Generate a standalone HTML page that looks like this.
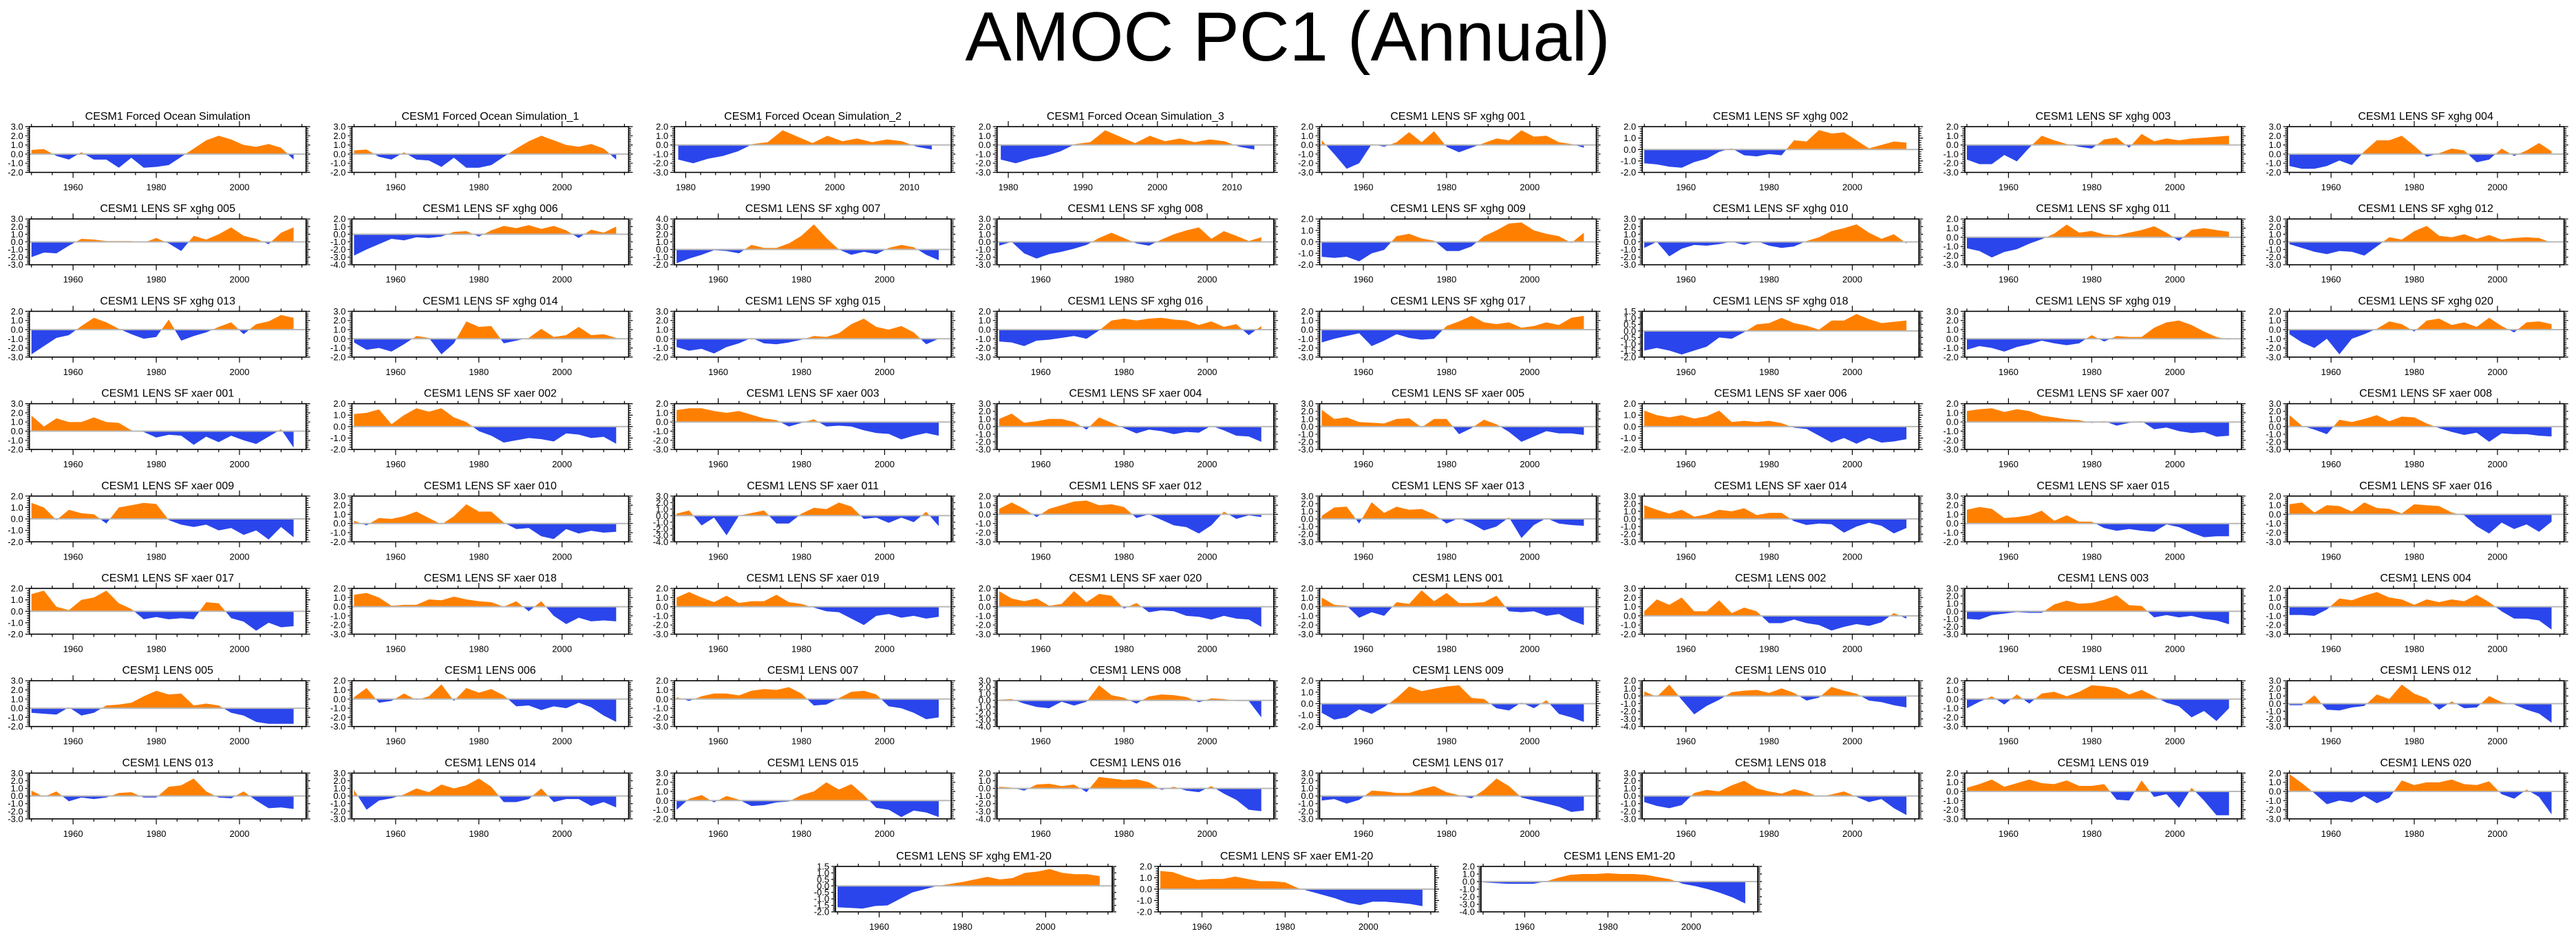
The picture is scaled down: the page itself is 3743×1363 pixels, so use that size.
<!DOCTYPE html>
<html><head><meta charset="utf-8"><style>
html,body{margin:0;padding:0;background:#fff;}
svg text{font-family:"Liberation Sans",Arial,sans-serif;fill:#000;}
</style></head><body>
<svg id="chart" width="3743" height="1358" viewBox="0 0 3743 1358" xmlns="http://www.w3.org/2000/svg">
<text x="1871" y="88" font-size="101" text-anchor="middle">AMOC PC1 (Annual)</text>
</svg>
<script>
const titles = ["CESM1 Forced Ocean Simulation","CESM1 Forced Ocean Simulation_1","CESM1 Forced Ocean Simulation_2","CESM1 Forced Ocean Simulation_3",
"CESM1 LENS SF xghg 001","CESM1 LENS SF xghg 002","CESM1 LENS SF xghg 003","CESM1 LENS SF xghg 004",
"CESM1 LENS SF xghg 005","CESM1 LENS SF xghg 006","CESM1 LENS SF xghg 007","CESM1 LENS SF xghg 008",
"CESM1 LENS SF xghg 009","CESM1 LENS SF xghg 010","CESM1 LENS SF xghg 011","CESM1 LENS SF xghg 012",
"CESM1 LENS SF xghg 013","CESM1 LENS SF xghg 014","CESM1 LENS SF xghg 015","CESM1 LENS SF xghg 016",
"CESM1 LENS SF xghg 017","CESM1 LENS SF xghg 018","CESM1 LENS SF xghg 019","CESM1 LENS SF xghg 020",
"CESM1 LENS SF xaer 001","CESM1 LENS SF xaer 002","CESM1 LENS SF xaer 003","CESM1 LENS SF xaer 004",
"CESM1 LENS SF xaer 005","CESM1 LENS SF xaer 006","CESM1 LENS SF xaer 007","CESM1 LENS SF xaer 008",
"CESM1 LENS SF xaer 009","CESM1 LENS SF xaer 010","CESM1 LENS SF xaer 011","CESM1 LENS SF xaer 012",
"CESM1 LENS SF xaer 013","CESM1 LENS SF xaer 014","CESM1 LENS SF xaer 015","CESM1 LENS SF xaer 016",
"CESM1 LENS SF xaer 017","CESM1 LENS SF xaer 018","CESM1 LENS SF xaer 019","CESM1 LENS SF xaer 020",
"CESM1 LENS 001","CESM1 LENS 002","CESM1 LENS 003","CESM1 LENS 004",
"CESM1 LENS 005","CESM1 LENS 006","CESM1 LENS 007","CESM1 LENS 008",
"CESM1 LENS 009","CESM1 LENS 010","CESM1 LENS 011","CESM1 LENS 012",
"CESM1 LENS 013","CESM1 LENS 014","CESM1 LENS 015","CESM1 LENS 016",
"CESM1 LENS 017","CESM1 LENS 018","CESM1 LENS 019","CESM1 LENS 020",
"CESM1 LENS SF xghg EM1-20","CESM1 LENS SF xaer EM1-20","CESM1 LENS EM1-20"];
const yTop = [3,3,2,2, 2,2,2,3, 3,2,4,3, 2,3,2,3, 2,3,3,2, 2,1.5,3,2, 3,2,2,3, 3,2,2,3,
 2,3,3,2, 3,3,3,2, 2,2,2,2, 2,3,3,2, 3,2,2,3, 2,2,2,3, 3,3,3,2, 3,3,2,2, 1.5,2,2];
const yBot = [-2,-2,-3,-3, -3,-2,-3,-2, -3,-4,-2,-3, -2,-3,-3,-3, -3,-2,-2,-3, -3,-2,-2,-3, -2,-2,-3,-3, -3,-2,-3,-3,
 -2,-2,-4,-3, -3,-3,-2,-3, -2,-3,-3,-3, -3,-2,-3,-3, -2,-3,-3,-4, -2,-4,-3,-3, -3,-3,-2,-4, -3,-3,-3,-3, -2,-2,-4];
const yearsLong = [1950,1953,1956,1959,1962,1965,1968,1971,1974,1977,1980,1983,1986,1989,1992,1995,1998,2001,2004,2007,2010,2013];
const yearsShort = [1979,1981,1983,1985,1987,1989,1991,1993,1995,1997,1999,2001,2003,2005,2007,2009,2011,2013];
const series = [
[0.45,0.55,-0.2,-0.6,0.2,-0.6,-0.6,-1.5,-0.4,-1.5,-1.4,-1.2,-0.3,0.6,1.5,2.0,1.6,1.0,0.8,1.1,0.7,-0.6],
[0.4,0.5,-0.3,-0.6,0.2,-0.6,-0.7,-1.4,-0.4,-1.5,-1.5,-1.2,-0.3,0.6,1.4,2.0,1.5,1.0,0.8,1.1,0.6,-0.6],
[-1.6,-2.0,-1.5,-1.2,-0.7,0.1,0.3,1.6,0.9,0.2,1.0,0.4,0.7,0.3,0.6,0.4,-0.2,-0.5],
[-1.6,-2.0,-1.5,-1.2,-0.7,0.1,0.3,1.6,0.9,0.2,1.0,0.4,0.7,0.3,0.6,0.4,-0.2,-0.5],
[0.5,-1.0,-2.6,-2.0,0.1,-0.2,0.3,1.4,0.3,1.5,-0.2,-0.8,-0.3,0.2,0.7,0.5,1.6,0.9,1.0,0.3,0.1,-0.3],
[-1.2,-1.3,-1.5,-1.6,-1.1,-0.8,-0.2,0.1,-0.5,-0.6,-0.4,-0.5,0.8,0.7,1.7,1.4,1.5,0.8,0.1,0.4,0.7,0.6],
[-1.6,-2.1,-2.1,-1.1,-1.8,-0.3,1.0,0.5,0.1,-0.2,-0.4,0.6,0.8,-0.3,1.2,0.4,0.7,0.5,0.7,0.8,0.9,1.0],
[-1.3,-1.6,-1.6,-1.3,-0.7,-1.2,0.3,1.5,1.5,2.0,0.9,-0.3,0.1,0.6,0.4,-0.9,-0.6,0.6,-0.2,0.4,1.2,0.3],
[-2.0,-1.4,-1.5,-0.5,0.4,0.3,0.1,0.1,0.1,-0.1,0.5,-0.2,-1.2,0.8,0.3,1.0,1.9,0.8,0.4,-0.3,1.2,1.9],
[-2.8,-2.0,-1.3,-0.6,-0.8,-0.4,-0.5,-0.3,0.3,0.4,-0.3,0.5,1.1,0.8,1.2,0.7,1.1,0.5,-0.5,0.6,0.2,1.0],
[-1.8,-1.2,-0.7,-0.1,-0.2,-0.5,0.6,0.2,0.2,0.8,1.8,3.3,1.5,0.0,-0.7,-0.3,-0.6,0.2,0.6,0.3,-0.7,-1.4],
[-0.5,0.0,-1.5,-2.2,-1.6,-1.3,-0.9,-0.4,0.5,1.2,0.5,-0.2,-0.5,0.3,1.0,1.5,1.9,0.4,1.4,0.8,0.1,0.6],
[-1.3,-1.4,-1.3,-1.7,-1.0,-0.7,0.5,0.7,0.3,0.1,-0.8,-0.8,-0.4,0.5,1.0,1.6,1.7,1.0,0.7,0.5,-0.1,0.8],
[-0.8,0.0,-1.9,-0.9,-0.4,-0.5,-0.3,0.0,-0.4,0.1,-0.5,-0.8,-0.6,0.1,0.6,1.4,1.8,2.3,1.2,0.4,1.0,-0.2],
[-1.2,-1.5,-2.2,-1.6,-1.3,-0.7,-0.2,0.4,1.4,0.5,0.7,0.3,0.2,0.5,0.8,1.2,0.5,-0.4,0.8,1.0,0.8,0.6],
[-0.3,-0.8,-1.3,-1.6,-1.2,-1.3,-1.8,-0.6,0.6,0.3,1.4,2.1,0.8,0.6,1.0,0.4,0.9,0.3,0.5,0.6,0.5,-0.1],
[-2.7,-1.8,-0.9,-0.6,0.4,1.3,0.8,0.1,-0.5,-1.0,-0.8,1.1,-1.2,-0.7,-0.3,0.3,0.8,-0.5,0.6,0.9,1.6,1.3],
[-0.4,-1.2,-1.0,-1.4,-0.6,0.3,0.1,-1.7,-0.5,1.9,1.3,1.4,-0.5,-0.2,0.1,1.1,0.2,0.4,1.3,0.4,0.5,0.1],
[-0.9,-1.3,-1.1,-1.6,-0.9,-0.5,0.1,-0.5,-0.6,-0.4,-0.1,0.3,0.2,0.6,1.6,2.2,1.3,1.0,1.4,0.7,-0.6,0.0],
[-1.3,-1.4,-1.8,-1.2,-1.1,-0.9,-0.7,-1.0,-0.1,1.0,1.2,1.0,1.2,1.3,1.1,1.0,0.5,0.9,0.3,0.6,-0.6,0.4],
[-1.4,-1.0,-0.7,-0.4,-1.8,-1.2,-0.5,-0.9,-1.1,-1.0,0.4,0.9,1.5,0.8,0.6,0.8,0.2,0.4,0.8,0.5,1.3,1.5],
[-1.5,-1.3,-1.5,-1.8,-1.5,-1.2,-0.5,-0.6,-0.1,0.5,0.6,1.0,0.6,0.4,0.1,0.8,0.8,1.3,0.9,0.6,0.7,0.8],
[-1.2,-0.8,-1.0,-1.4,-0.9,-0.6,-0.2,-0.5,-0.7,-0.5,0.4,-0.3,0.3,0.2,0.2,1.2,1.8,2.0,1.5,0.8,0.2,-0.1],
[-0.5,-1.4,-2.0,-1.0,-2.7,-1.0,-0.5,0.1,0.9,0.6,-0.2,1.0,1.2,0.5,0.8,0.3,1.3,0.4,-0.3,0.8,0.9,0.6],
[1.7,0.5,1.4,1.0,1.0,1.5,1.0,0.9,0.1,-0.1,-0.7,-0.4,-0.5,-1.5,-0.6,-1.2,-0.5,-1.0,-1.4,-0.6,0.2,-1.8],
[1.1,1.2,1.5,0.2,1.0,1.6,1.3,1.6,0.8,0.4,-0.4,-0.8,-1.4,-1.2,-1.0,-1.1,-1.3,-0.6,-0.7,-1.0,-0.9,-1.5],
[1.3,1.5,1.5,1.2,1.0,1.2,0.8,0.4,0.2,-0.5,-0.1,0.3,-0.5,-0.4,-0.5,-0.9,-1.2,-1.3,-1.9,-1.5,-1.2,-1.5],
[1.0,1.7,0.5,0.7,1.0,1.0,0.6,-0.4,1.2,0.5,-0.2,-0.9,-0.4,-0.6,-1.0,-0.7,-0.8,0.1,-0.5,-1.2,-1.3,-2.0],
[2.2,1.0,1.2,0.6,0.5,0.4,1.0,1.1,-0.1,1.0,1.0,-1.0,-0.2,0.9,0.3,-0.7,-2.0,-1.3,-0.6,-0.9,-0.9,-1.1],
[1.4,1.0,0.8,1.0,0.7,0.9,1.4,0.4,0.5,0.4,0.5,0.3,-0.1,-0.2,-0.8,-1.4,-1.0,-1.5,-1.0,-1.4,-1.3,-1.1],
[1.2,1.4,1.5,1.1,1.4,1.2,0.7,0.5,0.3,0.2,-0.1,0.1,-0.4,-0.1,0.1,-0.8,-0.6,-1.0,-1.2,-1.1,-1.6,-1.5],
[1.5,0.1,-0.4,-1.0,0.9,0.6,1.0,1.5,0.7,1.3,1.2,0.4,-0.2,-0.7,-1.1,-0.8,-2.0,-0.9,-1.0,-1.0,-1.2,-1.3],
[1.4,1.0,-0.1,0.8,0.5,0.4,-0.4,1.0,1.2,1.4,1.3,-0.1,-0.5,-0.7,-0.5,-1.0,-0.8,-1.4,-1.0,-1.8,-0.7,-1.6],
[0.3,-0.2,0.6,0.5,0.8,1.3,0.6,-0.1,0.8,2.1,1.3,1.3,0.1,-0.6,-0.5,-1.4,-1.7,-0.6,-1.1,-0.8,-1.0,-0.9],
[0.3,0.8,-1.5,-0.3,-3.0,0.0,0.4,0.8,-1.2,-1.2,0.3,1.2,1.0,2.0,1.4,-0.5,-0.3,-1.1,-0.3,-1.0,0.6,-1.6],
[0.6,1.3,0.6,-0.3,0.6,1.0,1.4,1.5,1.0,1.1,0.8,-0.4,0.0,-0.6,-1.2,-1.4,-2.1,-1.2,0.3,-0.5,-0.1,-0.3],
[0.4,1.5,1.6,-0.6,2.2,0.8,1.6,1.2,1.3,0.6,-0.6,0.1,-0.6,-1.5,-1.0,0.2,-2.5,-0.8,0.1,-0.6,-0.8,-0.9],
[1.8,1.2,0.7,1.2,0.3,0.6,1.2,1.0,1.4,0.5,0.8,0.8,-0.3,-0.8,-0.6,-0.7,-1.8,-1.0,-0.5,-0.9,-1.9,-1.2],
[1.5,1.8,1.6,0.6,0.7,0.9,1.4,0.3,0.9,0.2,0.2,-0.5,-0.8,-0.6,-0.8,-0.9,-0.1,-0.4,-1.0,-1.5,-1.4,-1.4],
[1.1,1.3,0.2,1.0,0.9,0.3,1.3,0.7,0.6,0.1,1.1,1.0,0.9,0.2,-0.1,-1.3,-2.1,-0.9,-1.6,-1.1,-1.9,-0.8],
[1.5,1.8,0.4,0.1,1.0,1.2,1.8,0.7,0.2,-0.7,-0.5,-0.7,-0.6,-0.7,0.8,0.7,-0.6,-0.9,-1.7,-1.0,-1.4,-1.3],
[1.3,1.5,1.0,0.1,0.2,0.2,0.8,0.7,1.1,0.8,0.6,0.5,0.0,0.6,-0.5,0.6,-1.0,-1.9,-1.2,-1.6,-1.5,-1.6],
[1.0,1.6,1.0,0.5,1.2,0.4,0.6,0.6,1.3,0.5,0.3,-0.1,-0.5,-0.6,-1.3,-2.0,-1.0,-0.8,-1.2,-1.0,-1.3,-1.1],
[1.7,0.9,0.6,0.9,0.1,0.3,1.7,0.5,1.4,1.2,-0.2,0.4,-0.6,-0.4,-0.5,-1.0,-1.1,-1.4,-1.0,-1.3,-1.4,-2.2],
[1.0,0.2,0.1,-1.2,-0.6,-1.0,0.5,0.3,1.8,0.6,1.5,0.4,0.4,0.5,1.2,-0.5,-0.6,-0.5,-1.0,-0.8,-1.5,-2.0],
[0.5,1.8,1.2,2.0,0.5,0.5,1.7,0.3,0.9,0.5,-0.8,-0.8,-0.4,-0.8,-1.0,-1.6,-1.2,-0.9,-1.1,-0.7,0.3,-0.3],
[-1.0,-1.1,-0.5,-0.3,-0.1,-0.2,-0.2,0.9,1.4,1.0,1.1,1.5,2.1,0.8,0.7,-0.8,-0.5,-0.8,-0.6,-1.0,-1.2,-1.7],
[-0.9,-0.9,-1.0,-0.3,0.9,0.7,1.2,1.6,1.0,0.8,0.2,0.8,0.5,0.8,0.6,1.3,0.5,-0.5,-1.3,-1.3,-1.5,-2.5],
[-0.5,-0.6,-0.7,0.1,-0.8,-0.5,0.3,0.4,0.6,1.3,1.9,1.5,1.6,0.3,0.5,0.3,-0.5,-0.8,-1.5,-1.7,-1.7,-1.7],
[0.2,1.2,-0.4,-0.2,0.6,-0.1,0.3,1.6,-0.2,1.2,0.7,1.1,0.4,-0.8,-0.7,-1.2,-0.8,-1.0,-0.4,-0.9,-1.8,-2.5],
[0.2,-0.2,0.3,0.6,0.6,0.4,0.9,1.1,1.0,1.3,0.6,-0.7,-0.6,0.1,0.8,0.9,0.5,-0.8,-1.0,-1.5,-2.2,-2.0],
[0.1,0.2,-0.5,-1.0,-1.2,-0.2,-0.8,-0.2,2.3,0.8,0.4,-0.5,0.6,0.9,0.8,0.5,-0.3,0.3,0.2,-0.1,-0.1,-2.6],
[-0.8,-1.4,-1.2,-0.5,-0.9,-0.3,0.5,1.5,1.1,1.3,1.5,1.6,0.5,0.4,-0.4,-0.6,0.1,-0.4,0.3,-0.9,-1.2,-1.6],
[0.6,-0.1,1.5,-0.5,-2.4,-1.3,-0.5,0.5,0.7,0.8,0.4,1.0,0.4,-0.6,-0.2,1.2,0.7,0.3,-0.6,-0.8,-1.2,-1.5],
[-1.0,-0.3,0.3,-0.6,0.5,-0.5,0.6,0.8,0.3,0.8,1.5,1.4,1.2,0.5,1.0,0.3,-0.4,-0.8,-2.0,-1.3,-2.4,-1.0],
[-0.2,-0.2,1.1,-0.8,-0.9,-0.5,-0.3,1.2,0.6,2.5,1.3,0.7,-0.8,0.3,-0.6,-0.5,1.0,0.2,-0.1,-0.8,-1.3,-2.5],
[0.7,-0.1,0.6,-0.7,-0.2,-0.4,-0.2,0.4,0.5,-0.2,-0.2,1.2,1.4,2.3,0.6,-0.2,-0.3,0.6,-0.6,-1.6,-1.5,-1.7],
[0.8,-1.8,-0.6,-0.3,0.2,1.0,0.5,1.5,1.0,1.4,2.3,1.2,-0.8,-0.8,-0.4,1.0,-0.8,-0.4,-0.4,-1.3,-0.8,-1.5],
[-1.0,0.2,0.6,-0.2,0.5,0.1,-0.6,-0.5,-0.2,-0.1,0.6,1.0,2.0,1.2,1.8,0.6,-0.8,-1.0,-1.8,-1.1,-1.3,-1.8],
[0.2,0.1,-0.3,0.5,0.6,0.3,0.5,-0.5,1.5,1.3,1.1,1.2,0.8,-0.2,0.2,-0.3,-0.5,0.3,-0.7,-1.5,-2.8,-3.0],
[-0.6,-0.4,-1.0,-0.5,0.7,0.6,0.4,0.4,0.9,1.3,0.5,0.1,-0.3,0.8,2.3,1.3,-0.2,-0.6,-1.0,-1.4,-2.1,-1.9],
[-0.8,-1.3,-1.6,-1.2,0.4,0.8,0.6,1.4,2.0,1.0,0.6,0.3,0.9,0.5,-0.1,0.2,0.6,-0.1,-0.8,-0.4,-1.6,-2.5],
[0.4,0.8,1.3,0.5,0.9,1.3,0.9,0.8,1.2,0.6,0.6,0.8,-0.9,-1.0,1.2,-0.6,-0.3,-1.8,0.4,-1.0,-2.6,-2.6],
[1.9,0.9,-0.2,-1.4,-1.0,-1.2,-0.5,-1.3,-0.7,1.2,0.7,1.0,1.0,1.3,0.8,0.7,1.1,-0.3,-0.8,0.2,-0.6,-2.5],
[-1.65,-1.7,-1.75,-1.55,-1.5,-1.0,-0.5,-0.25,0.0,0.15,0.3,0.5,0.7,0.5,0.6,1.0,1.1,1.3,1.0,0.9,0.9,0.75],
[1.6,1.5,1.1,0.8,0.9,0.9,1.1,0.9,0.7,0.7,0.6,0.1,-0.2,-0.5,-0.8,-1.2,-1.4,-1.1,-1.1,-1.2,-1.3,-1.5],
[-0.1,-0.2,-0.3,-0.3,-0.3,0.0,0.5,0.9,1.0,1.0,1.1,1.0,1.0,0.9,0.6,0.3,-0.3,-0.6,-1.0,-1.5,-2.1,-2.9]
];

const NS = "http://www.w3.org/2000/svg";
const svg = document.getElementById('chart');
function mk(tag, attrs, parent) {
  const e = document.createElementNS(NS, tag);
  for (const k in attrs) e.setAttribute(k, attrs[k]);
  (parent || svg).appendChild(e);
  return e;
}

series.forEach(function (vals, i) {
  let L, T, W, H;
  if (i < 64) {
    L = 42.7 + (i % 8) * 468.7; T = 184 + Math.floor(i / 8) * 134.2; W = 402; H = 66.5;
  } else {
    L = 1214 + (i - 64) * 469; T = 1259; W = 402; H = 66;
  }
  const isShort = (i === 2 || i === 3);
  const years = isShort ? yearsShort : yearsLong;
  const x0 = isShort ? 1978.5 : 1949.5, x1 = isShort ? 2015.6 : 2016;
  const yMax = yTop[i], yMin = yBot[i];
  const xS = function (yr) { return L + (yr - x0) / (x1 - x0) * W; };
  const yS = function (v) { return T + (yMax - v) / (yMax - yMin) * H; };

  const g = mk('g', {});
  
  

  const title = mk('text', {x: L + W / 2, y: T - 10, 'font-size': 16, 'text-anchor': 'middle'}, g);
  title.textContent = titles[i];
  
  

  const cidA = 'ca' + i, cidB = 'cb' + i;
  const defs = mk('defs', {}, g);
  const cpA = mk('clipPath', {id: cidA}, defs);
  mk('rect', {x: L, y: T, width: W, height: yS(0) - T}, cpA);
  const cpB = mk('clipPath', {id: cidB}, defs);
  mk('rect', {x: L, y: yS(0), width: W, height: T + H - yS(0)}, cpB);

  let pts = xS(years[0]).toFixed(1) + ',' + yS(0).toFixed(1) + ' ';
  vals.forEach(function (v, k) { pts += xS(years[k]).toFixed(1) + ',' + yS(v).toFixed(1) + ' '; });
  pts += xS(years[vals.length - 1]).toFixed(1) + ',' + yS(0).toFixed(1);
  const pa = mk('polygon', {points: pts, fill: '#ff8000', 'clip-path': 'url(#' + cidA + ')'}, g);
  
  
  const pb = mk('polygon', {points: pts, fill: '#2a45eb', 'clip-path': 'url(#' + cidB + ')'}, g);
  
  

  const zl = mk('line', {x1: L, x2: L + W, y1: yS(0), y2: yS(0), stroke: '#b8b8b8', 'stroke-width': 2}, g);
  
  

  const fr = mk('rect', {x: L, y: T, width: W, height: H, fill: 'none', stroke: '#000', 'stroke-width': 1.6}, g);
  
  

  const major = yMax === 1.5 ? 0.5 : 1;
  const minor = yMax === 1.5 ? 0.1 : 0.2;
  let tp = '';
  const nMin = Math.round((yMax - yMin) / minor);
  for (let k = 0; k <= nMin; k++) {
    const v = yMax - k * minor;
    const isMaj = Math.abs(v / major - Math.round(v / major)) < 1e-6;
    const len = isMaj ? 6 : 3.5;
    const y = yS(v);
    tp += 'M' + L + ' ' + y + 'h' + (-len) + 'M' + (L + W) + ' ' + y + 'h' + len;
  }
  const nMaj = Math.round((yMax - yMin) / major);
  for (let k = 0; k <= nMaj; k++) {
    const v = yMax - k * major;
    const t = mk('text', {x: L - 9, y: yS(v) + 4.5, 'font-size': 13, 'text-anchor': 'end'}, g);
    t.textContent = (Math.abs(v) < 1e-9 ? 0 : v).toFixed(1);
    
    
  }
  const xMajStep = isShort ? 10 : 20, xMinStep = isShort ? 2 : 5;
  const xStartMaj = isShort ? 1980 : 1960;
  for (let yr = Math.ceil(x0); yr <= x1; yr++) {
    if (yr % xMinStep !== 0) continue;
    const isMaj = (yr - xStartMaj) % xMajStep === 0 && yr >= xStartMaj;
    const len = isMaj ? 8 : 4;
    const x = xS(yr);
    tp += 'M' + x + ' ' + T + 'v' + (-len) + 'M' + x + ' ' + (T + H) + 'v' + len;
    if (isMaj) {
      const t = mk('text', {x: x, y: T + H + 26, 'font-size': 13, 'text-anchor': 'middle'}, g);
      t.textContent = yr;
      
      
    }
  }
  const ticks = mk('path', {d: tp, stroke: '#000', 'stroke-width': 1.2, fill: 'none'}, g);
  
  
});
</script>
</body></html>
